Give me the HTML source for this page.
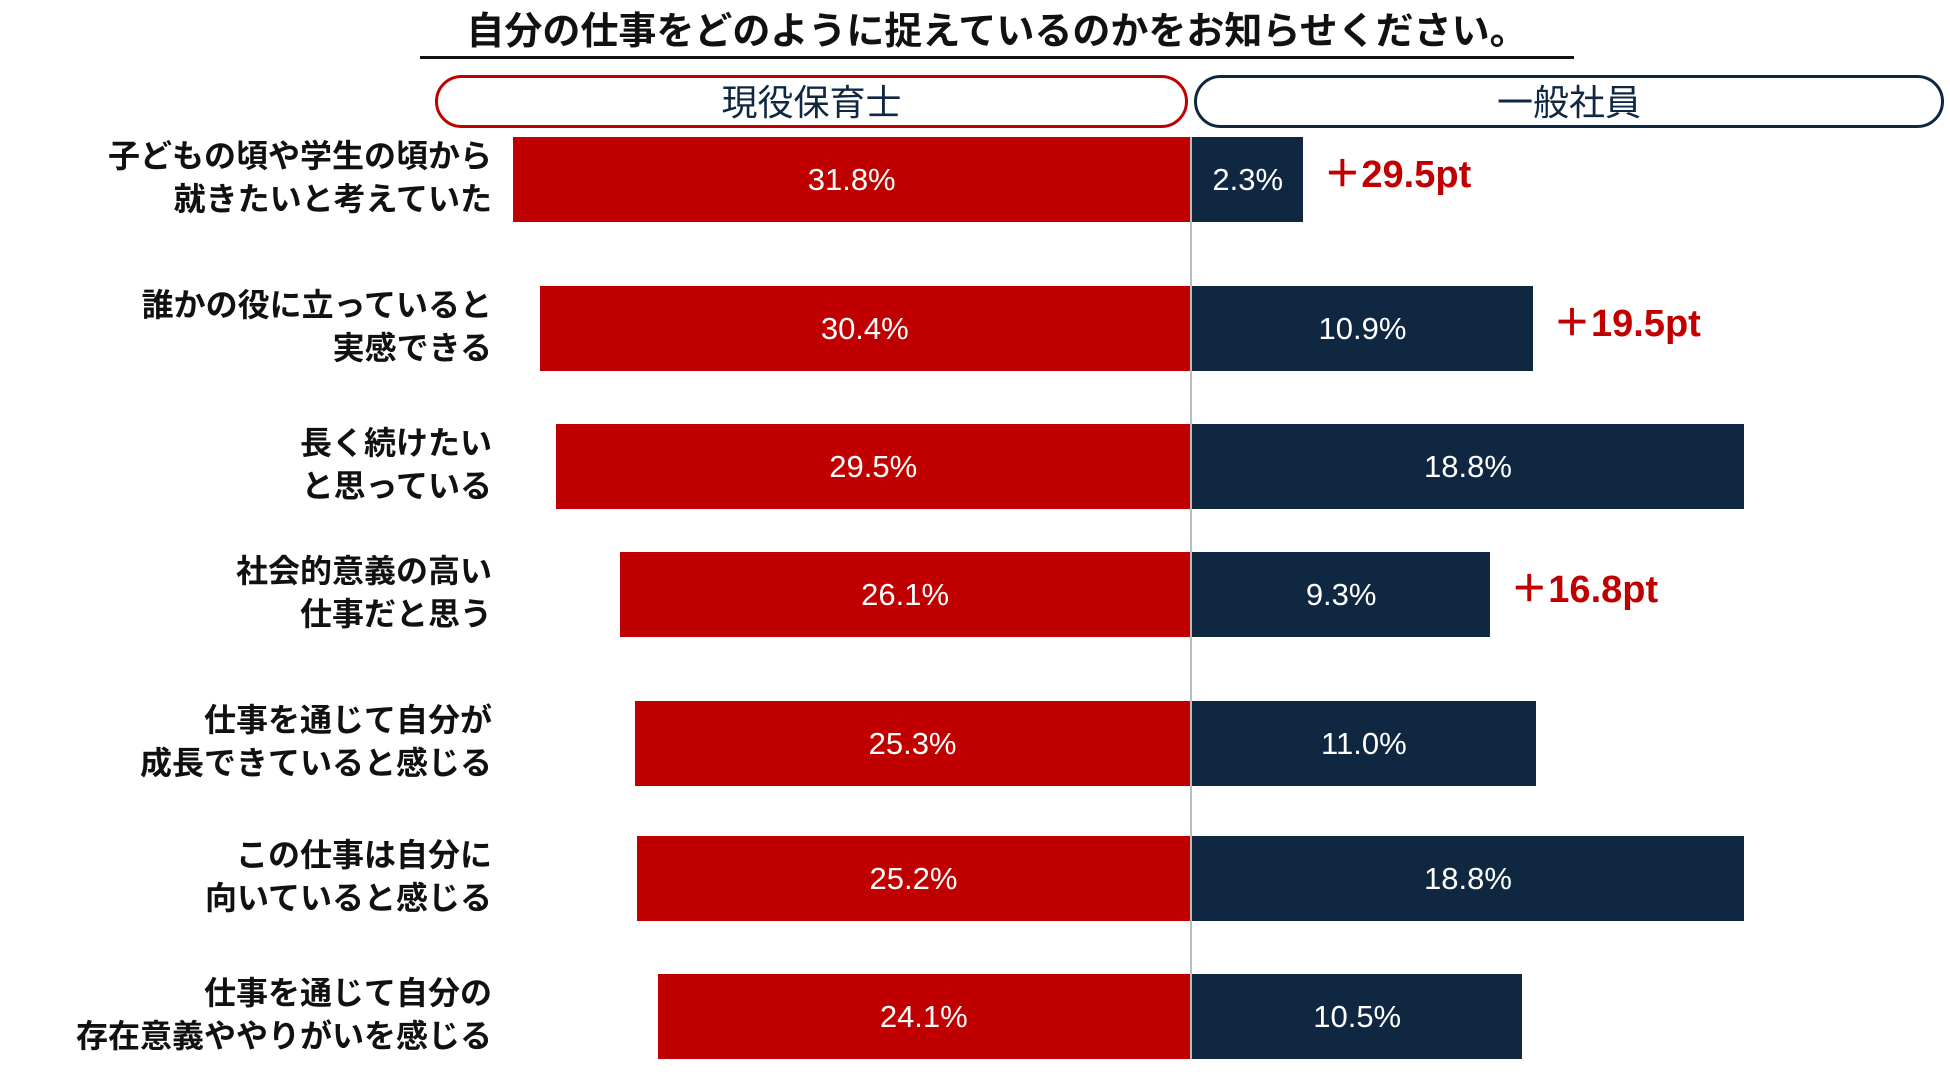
<!DOCTYPE html>
<html><head><meta charset="utf-8">
<style>
body{margin:0;background:#fff;width:1950px;height:1074px;overflow:hidden;font-family:"Liberation Sans","Noto Sans CJK JP",sans-serif;}
#c{position:relative;width:1950px;height:1074px;}
.title{position:absolute;left:420px;top:8px;width:1154px;text-align:center;font-size:38px;font-weight:bold;color:#111;border-bottom:3px solid #111;line-height:48px;}
.pill{position:absolute;top:75px;height:53px;box-sizing:border-box;border-radius:27px;background:#fff;text-align:center;font-size:36px;line-height:49px;color:#0f2741;}
.bar{position:absolute;height:85px;}
.val{position:absolute;height:85px;line-height:85px;color:#fff;font-size:31px;text-align:center;}
.lab{position:absolute;right:1458px;text-align:right;font-size:32px;font-weight:bold;color:#111;line-height:43px;white-space:nowrap;}
.diff{position:absolute;height:85px;line-height:85px;color:#c00000;font-size:38px;font-weight:bold;white-space:nowrap;}
</style></head><body>
<div id="c">
<div class="title">自分の仕事をどのように捉えているのかをお知らせください。</div>
<div class="pill" style="left:435px;width:753px;border:3px solid #c00000;">現役保育士</div>
<div class="pill" style="left:1194px;width:750px;border:3px solid #0f2741;">一般社員</div>
<div style="position:absolute;left:1190px;top:137px;width:2px;height:922px;background:#bbb;"></div>
</div>
<script>
const categories=[["子どもの頃や学生の頃から","就きたいと考えていた"],["誰かの役に立っていると","実感できる"],["長く続けたい","と思っている"],["社会的意義の高い","仕事だと思う"],["仕事を通じて自分が","成長できていると感じる"],["この仕事は自分に","向いていると感じる"],["仕事を通じて自分の","存在意義ややりがいを感じる"]];
const hoikushi=[31.8,30.4,29.5,26.1,25.3,25.2,24.1];
const ippan=[2.3,10.9,18.8,9.3,11.0,18.8,10.5];
const diffs=["+29.5pt","+19.5pt","","+16.8pt","","",""];
const rowTops=[137,286,424,552,701,836,974];
const cx=1190;
function leftLen(v){return 81+18.73*v;}
function rightLen(v){return 50+26.7*v;}
const c=document.getElementById('c');
function mk(cls,style,text){const d=document.createElement('div');d.className=cls;Object.assign(d.style,style);if(text!==undefined)d.textContent=text;c.appendChild(d);return d;}
categories.forEach((cat,i)=>{
  const t=rowTops[i];
  const L=leftLen(hoikushi[i]),R=rightLen(ippan[i]);
  const lb=mk('bar',{left:(cx-L)+'px',top:t+'px',width:L+'px',background:'#c00000'});
  
  
  const lv=mk('val',{left:(cx-L)+'px',top:t+'px',width:L+'px'},hoikushi[i].toFixed(1)+'%');
  
  
  const rb=mk('bar',{left:(cx+2)+'px',top:t+'px',width:R+'px',background:'#0f2741'});
  
  
  const rv=mk('val',{left:(cx+2)+'px',top:t+'px',width:R+'px'},ippan[i].toFixed(1)+'%');
  
  
  const lab=mk('lab',{top:(t-2)+'px'});
  lab.innerHTML=cat[0]+'<br>'+cat[1];
  
  
  if(diffs[i]){
    const d=mk('diff',{left:(cx+R+22)+'px',top:(t-4)+'px'},diffs[i].replace('+','＋'));
    
    
  }
});
</script>
</body></html>
